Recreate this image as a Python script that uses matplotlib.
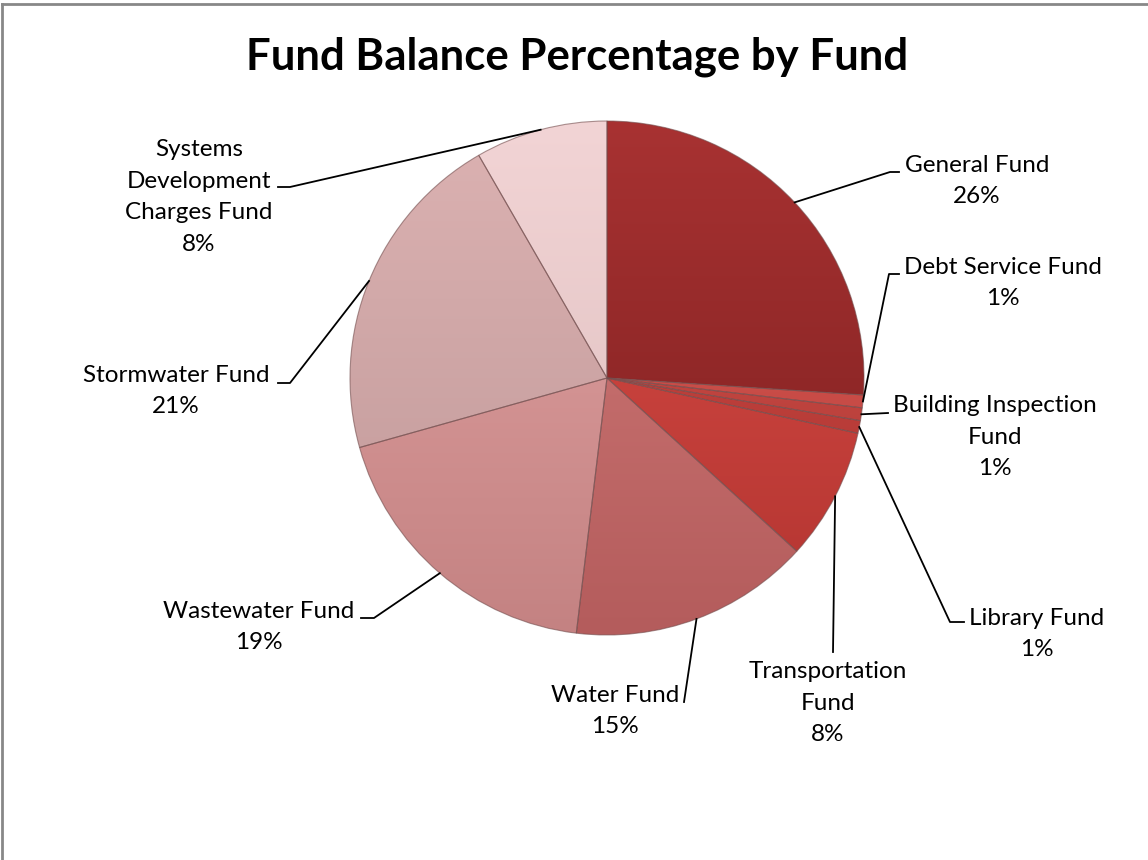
import numpy as np
import matplotlib
matplotlib.use("Agg")
import matplotlib.pyplot as plt
from matplotlib.colors import LinearSegmentedColormap
from matplotlib.lines import Line2D

# data
funds = ["General Fund", "Debt Service Fund", "Building Inspection\nFund",
         "Library Fund", "Transportation\nFund", "Water Fund",
         "Wastewater Fund", "Stormwater Fund",
         "Systems\nDevelopment\nCharges Fund"]
shares = [26.0, 0.8, 0.8, 0.8, 8.3, 15.1, 18.7, 21.0, 8.3]

# top / bottom shade of each slice
tops = ["#a83232", "#e2605a", "#d9554f", "#d24c47", "#dc4e48",
        "#d27c7a", "#e2a4a4", "#dcb2b2", "#f2d4d5"]
bottoms = ["#7a1e1e", "#b23a36", "#a83430", "#a8322e", "#b23430",
           "#b45c5c", "#c48282", "#bf9898", "#dcbdbd"]

W, H = 1148, 860
CX, CY, R = 607, 378, 257

# label layout, image pixels: text centre, leader elbow, leader end
label_xy = [(977, 181), (1003, 283), (995, 437), (1037, 634), (828, 703),
            (615, 711), (259, 627), (176, 391), (199, 197)]
elbows = [(890, 172), (889, 274), (888, 413), (950, 622), (833, 652),
          (684, 702), (374, 618), (290, 383), (290, 187)]
ends = [(899, 172), (899, 274), (888, 413), (964, 622), (833, 652),
        (684, 702), (361, 618), (278, 383), (278, 187)]


def main():
    fig = plt.figure(figsize=(W / 100, H / 100), dpi=100)
    ax = fig.add_axes([0, 0, 1, 1])

    wedges, _ = ax.pie(shares, startangle=90, counterclock=False,
                       center=(CX, H - CY), radius=R, colors=tops,
                       wedgeprops=dict(edgecolor="#7a5050", linewidth=0.8))

    grad = np.linspace(0, 1, 256).reshape(-1, 1)
    for w, t, b in zip(wedges, tops, bottoms):
        cmap = LinearSegmentedColormap.from_list("", [b, t])
        im = ax.imshow(grad, cmap=cmap, origin="lower", aspect="auto",
                       extent=(CX - R, CX + R, H - CY - R, H - CY + R),
                       zorder=1)
        im.set_clip_path(w)
        w.set_facecolor("none")
        w.set_zorder(2)
        w.set_edgecolor((0.45, 0.3, 0.3, 0.6))

    total = sum(shares)
    for w, name, v, (tx, ty), el, en in zip(wedges, funds, shares,
                                            label_xy, elbows, ends):
        mid = np.deg2rad((w.theta1 + w.theta2) / 2)
        px = CX + R * np.cos(mid)
        py = H - CY + R * np.sin(mid)
        ax.plot([px, el[0], en[0]], [py, H - el[1], H - en[1]],
                color="black", lw=1.3, zorder=3)
        ax.text(tx, H - ty, f"{name}\n{round(v / total * 100)}%",
                ha="center", va="center", fontsize=17.5, family="Lato",
                linespacing=1.62, zorder=4)

    ax.text(577, H - 57, "Fund Balance Percentage by Fund", ha="center",
            va="center", fontsize=31.5, fontweight="bold", family="Lato")

    ax.set_xlim(0, W)
    ax.set_ylim(0, H)
    ax.set_aspect("auto")
    ax.axis("off")

    # frame (top and left edges visible)
    fig.add_artist(Line2D([2 / W, 2 / W], [0, 1 - 4 / H], color="#888888",
                          lw=2))
    fig.add_artist(Line2D([2 / W, 1], [1 - 4 / H, 1 - 4 / H],
                          color="#888888", lw=2))

    fig.savefig("out.png", dpi=100)


if __name__ == "__main__":
    main()
